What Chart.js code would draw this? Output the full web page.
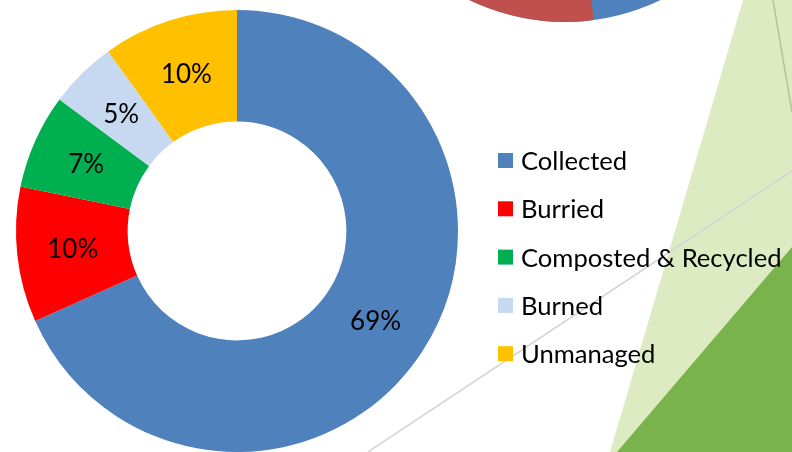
<!DOCTYPE html>
<html>
<head>
<meta charset="utf-8">
<script src="https://cdn.jsdelivr.net/npm/chart.js@4"></script>
<style>
  html, body { margin: 0; padding: 0; background: #fff; }
  #wrap { position: relative; width: 792px; height: 452px; overflow: hidden; }
</style>
</head>
<body>
<div id="wrap"><canvas id="chart" width="792" height="452"></canvas></div>
<script>
const labels = ["Collected", "Burried", "Composted & Recycled", "Burned", "Unmanaged"];
const percents = [69, 10, 7, 5, 10];
const colors = ["#4F81BD", "#FF0000", "#00B050", "#C6D9F1", "#FFC000"];

const FONT = "Lato, 'Open Sans', sans-serif";

// slide background shapes behind the chart
const slideBackground = {
  id: "slideBackground",
  beforeDraw(chart) {
    const c = chart.ctx;
    c.save();
    // piece of another pie peeking in at the top
    c.beginPath();
    c.arc(565, -197, 219, 0, Math.PI * 2);
    c.fillStyle = "#4F81BD";
    c.fill();
    c.save();
    c.beginPath();
    c.moveTo(565, -197);
    c.lineTo(623, 239);
    c.lineTo(0, 239);
    c.lineTo(0, -197);
    c.closePath();
    c.clip();
    c.beginPath();
    c.arc(565, -197, 219, 0, Math.PI * 2);
    c.fillStyle = "#C0504D";
    c.fill();
    c.restore();
    // light green band
    c.beginPath();
    c.moveTo(743, 0);
    c.lineTo(792, 0);
    c.lineTo(792, 452);
    c.lineTo(610, 452);
    c.closePath();
    c.fillStyle = "#DDEBC2";
    c.fill();
    // dark green triangle
    c.beginPath();
    c.moveTo(792, 247);
    c.lineTo(792, 452);
    c.lineTo(617, 452);
    c.closePath();
    c.fillStyle = "#7AB24B";
    c.fill();
    // thin lines
    c.lineWidth = 1.5;
    c.strokeStyle = "#D4D4D4";
    c.beginPath();
    c.moveTo(368, 452);
    c.lineTo(792, 171);
    c.stroke();
    c.strokeStyle = "#B3C39A";
    c.beginPath();
    c.moveTo(773, 0);
    c.lineTo(792, 112);
    c.stroke();
    c.restore();
  }
};

// percentage labels in the middle of each slice
const sliceLabels = {
  id: "sliceLabels",
  afterDatasetsDraw(chart) {
    const c = chart.ctx;
    const meta = chart.getDatasetMeta(0);
    c.save();
    c.font = "26px " + FONT;
    c.fillStyle = "#000";
    c.textAlign = "center";
    c.textBaseline = "middle";
    meta.data.forEach((arc, i) => {
      const p = arc.getCenterPoint();
      c.fillText(percents[i] + "%", p.x, p.y + 1);
    });
    c.restore();
  }
};

// legend drawn to the right of the doughnut
const sideLegend = {
  id: "sideLegend",
  afterDraw(chart) {
    const c = chart.ctx;
    c.save();
    c.font = "25.6px " + FONT;
    c.textBaseline = "alphabetic";
    chart.data.labels.forEach((lab, i) => {
      const y = 153 + i * 48.3;
      c.fillStyle = colors[i];
      c.fillRect(498, y, 15, 15);
      c.fillStyle = "#000";
      c.fillText(lab, 521, y + 17);
    });
    c.restore();
  }
};

new Chart(document.getElementById("chart"), {
  type: "doughnut",
  data: {
    labels: labels,
    datasets: [{
      data: percents,
      backgroundColor: colors,
      borderWidth: 0
    }]
  },
  options: {
    responsive: false,
    animation: false,
    cutout: "49.5%",
    layout: { padding: { left: 15, right: 333, top: 10, bottom: 0 } },
    plugins: {
      legend: { display: false },
      tooltip: { enabled: false }
    }
  },
  plugins: [slideBackground, sliceLabels, sideLegend]
});
</script>
</body>
</html>
